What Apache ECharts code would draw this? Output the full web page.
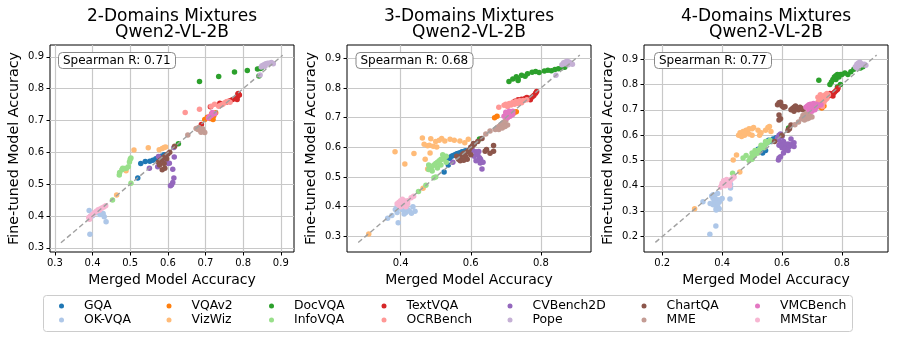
<!DOCTYPE html>
<html>
<head>
<meta charset="utf-8">
<script src="https://cdn.jsdelivr.net/npm/echarts@6/dist/echarts.min.js"></script>
<style>
  html, body { margin: 0; padding: 0; background: #fff; }
  #chart { width: 897px; height: 339px; }
</style>
</head>
<body>
<div id="chart"></div>
<script>
var names = ['GQA', 'OK-VQA', 'VQAv2', 'VizWiz', 'DocVQA', 'InfoVQA', 'TextVQA', 'OCRBench', 'CVBench2D', 'Pope', 'ChartQA', 'MME', 'VMCBench', 'MMStar'];
var colors = ['#1f77b4', '#aec7e8', '#ff7f0e', '#ffbb78', '#2ca02c', '#98df8a', '#d62728', '#ff9896', '#9467bd', '#c5b0d5', '#8c564b', '#c49c94', '#e377c2', '#f7b6d2'];

var titles = ['2-Domains Mixtures\nQwen2-VL-2B', '3-Domains Mixtures\nQwen2-VL-2B', '4-Domains Mixtures\nQwen2-VL-2B'];
var spearman = ['Spearman R: 0.71', 'Spearman R: 0.68', 'Spearman R: 0.77'];

// axis ranges and ticks per panel
var xRanges = [[0.287, 0.935], [0.247, 0.943], [0.139, 0.954]];
var yRanges = [[0.287, 0.937], [0.247, 0.945], [0.139, 0.956]];
var xTicks = [[0.3, 0.4, 0.5, 0.6, 0.7, 0.8, 0.9], [0.4, 0.6, 0.8], [0.2, 0.4, 0.6, 0.8]];
var yTicks = [[0.3, 0.4, 0.5, 0.6, 0.7, 0.8, 0.9], [0.3, 0.4, 0.5, 0.6, 0.7, 0.8, 0.9], [0.2, 0.3, 0.4, 0.5, 0.6, 0.7, 0.8, 0.9]];
// y = x reference line ends
var diag = [[0.316, 0.905], [0.279, 0.911], [0.177, 0.916]];

// ---- 2 domains ----
var gqa_2 = [[0.52,0.519],[0.528,0.565],[0.54,0.571],[0.552,0.572],[0.56,0.575],[0.568,0.58],[0.575,0.583],[0.582,0.588],[0.59,0.592],[0.585,0.585]];
var okvqa_2 = [[0.391,0.417],[0.393,0.343],[0.436,0.382],[0.431,0.398],[0.4,0.401],[0.42,0.405],[0.395,0.4],[0.41,0.41],[0.428,0.408]];
var vqav2_2 = [[0.698,0.703],[0.705,0.71],[0.712,0.706],[0.72,0.703],[0.722,0.715],[0.727,0.724],[0.716,0.72]];
var vizwiz_2 = [[0.464,0.466],[0.489,0.542],[0.51,0.607],[0.548,0.614],[0.577,0.608],[0.585,0.612],[0.59,0.615],[0.594,0.617]];
var docvqa_2 = [[0.628,0.627],[0.684,0.822],[0.735,0.838],[0.777,0.852],[0.811,0.857],[0.838,0.862],[0.845,0.863],[0.842,0.84],[0.848,0.865]];
var infovqa_2 = [[0.453,0.45],[0.502,0.503],[0.471,0.529],[0.472,0.537],[0.478,0.545],[0.485,0.549],[0.49,0.55],[0.495,0.555],[0.498,0.57],[0.5,0.578],[0.502,0.582],[0.48,0.55]];
var textvqa_2 = [[0.689,0.687],[0.713,0.743],[0.738,0.754],[0.755,0.757],[0.765,0.762],[0.772,0.766],[0.78,0.77],[0.784,0.766],[0.785,0.775],[0.786,0.782],[0.787,0.785],[0.79,0.78]];
var ocrbench_2 = [[0.646,0.725],[0.684,0.735],[0.715,0.745],[0.724,0.751],[0.735,0.745],[0.74,0.748],[0.745,0.75],[0.75,0.755],[0.755,0.758],[0.76,0.76],[0.765,0.757]];
var cvbench_2 = [[0.551,0.55],[0.573,0.555],[0.575,0.587],[0.58,0.57],[0.6,0.566],[0.604,0.566],[0.613,0.547],[0.617,0.585],[0.616,0.519],[0.613,0.505],[0.607,0.495],[0.61,0.498],[0.616,0.615],[0.59,0.578]];
var pope_2 = [[0.845,0.843],[0.85,0.872],[0.855,0.875],[0.86,0.878],[0.865,0.88],[0.87,0.88],[0.875,0.882],[0.88,0.878],[0.858,0.87],[0.848,0.868]];
var chartqa_2 = [[0.575,0.57],[0.58,0.575],[0.585,0.58],[0.59,0.585],[0.595,0.59],[0.6,0.595],[0.585,0.545],[0.592,0.55],[0.578,0.56],[0.59,0.565],[0.605,0.6],[0.618,0.619],[0.597,0.58]];
var mme_2 = [[0.653,0.654],[0.675,0.675],[0.68,0.672],[0.685,0.67],[0.69,0.668],[0.695,0.665],[0.698,0.662],[0.682,0.678],[0.692,0.674],[0.688,0.663]];
var vmcbench_2 = [[0.71,0.712],[0.715,0.716],[0.72,0.72],[0.725,0.722],[0.718,0.725],[0.708,0.708]];
var mmstar_2 = [[0.39,0.395],[0.395,0.4],[0.4,0.405],[0.41,0.415],[0.415,0.42],[0.42,0.422],[0.425,0.425],[0.43,0.428],[0.435,0.432],[0.392,0.39],[0.405,0.41],[0.418,0.418]];

// ---- 3 domains ----
var gqa_3 = [[0.524,0.517],[0.536,0.54],[0.535,0.565],[0.545,0.57],[0.555,0.575],[0.565,0.58],[0.575,0.585],[0.585,0.588],[0.595,0.59],[0.55,0.572],[0.56,0.578],[0.57,0.582],[0.54,0.562],[0.58,0.586]];
var okvqa_3 = [[0.363,0.361],[0.375,0.37],[0.393,0.346],[0.39,0.38],[0.395,0.395],[0.4,0.4],[0.405,0.39],[0.41,0.385],[0.415,0.38],[0.42,0.39],[0.425,0.385],[0.431,0.378],[0.441,0.384],[0.385,0.39],[0.4,0.41],[0.435,0.4],[0.39,0.4],[0.41,0.375]];
var vqav2_3 = [[0.668,0.7],[0.675,0.705],[0.72,0.712],[0.725,0.718],[0.73,0.72]];
var vizwiz_3 = [[0.309,0.308],[0.384,0.585],[0.412,0.544],[0.438,0.579],[0.462,0.631],[0.467,0.61],[0.477,0.605],[0.482,0.607],[0.493,0.604],[0.503,0.601],[0.477,0.527],[0.484,0.581],[0.486,0.629],[0.5,0.62],[0.51,0.624],[0.517,0.63],[0.526,0.621],[0.541,0.627],[0.553,0.624],[0.569,0.621],[0.583,0.615],[0.593,0.627],[0.464,0.462],[0.47,0.56]];
var docvqa_3 = [[0.625,0.628],[0.709,0.822],[0.72,0.83],[0.73,0.838],[0.735,0.83],[0.745,0.843],[0.755,0.84],[0.762,0.848],[0.775,0.853],[0.785,0.856],[0.795,0.852],[0.81,0.857],[0.82,0.86],[0.83,0.858],[0.84,0.862],[0.85,0.865],[0.86,0.868],[0.868,0.87],[0.735,0.825]];
var infovqa_3 = [[0.451,0.451],[0.472,0.472],[0.495,0.497],[0.5,0.5],[0.48,0.525],[0.485,0.53],[0.49,0.535],[0.495,0.54],[0.5,0.545],[0.505,0.55],[0.51,0.555],[0.515,0.56],[0.52,0.56],[0.525,0.565],[0.53,0.57],[0.49,0.52],[0.505,0.53],[0.515,0.54],[0.48,0.54],[0.52,0.575],[0.51,0.545],[0.53,0.55]];
var textvqa_3 = [[0.726,0.755],[0.735,0.76],[0.745,0.762],[0.755,0.765],[0.76,0.768],[0.768,0.765],[0.775,0.77],[0.78,0.775],[0.785,0.782],[0.788,0.788],[0.75,0.758],[0.77,0.76]];
var ocrbench_3 = [[0.68,0.735],[0.695,0.742],[0.7,0.745],[0.71,0.748],[0.72,0.752],[0.73,0.755],[0.74,0.757],[0.75,0.758],[0.76,0.76],[0.705,0.738],[0.715,0.743],[0.725,0.745],[0.735,0.748],[0.745,0.75]];
var cvbench_3 = [[0.549,0.55],[0.6,0.58],[0.61,0.57],[0.615,0.585],[0.62,0.575],[0.623,0.586],[0.625,0.565],[0.628,0.56],[0.627,0.547],[0.632,0.527],[0.615,0.555],[0.605,0.59],[0.635,0.55]];
var pope_3 = [[0.843,0.843],[0.86,0.878],[0.865,0.885],[0.87,0.888],[0.875,0.89],[0.88,0.888],[0.885,0.884],[0.89,0.88],[0.868,0.882],[0.878,0.878]];
var chartqa_3 = [[0.56,0.57],[0.565,0.56],[0.57,0.565],[0.575,0.575],[0.58,0.58],[0.585,0.57],[0.59,0.585],[0.595,0.59],[0.6,0.6],[0.605,0.605],[0.61,0.61],[0.59,0.56],[0.6,0.575],[0.57,0.555],[0.608,0.613],[0.62,0.62],[0.632,0.63],[0.641,0.587],[0.645,0.593],[0.665,0.606],[0.665,0.587],[0.655,0.58],[0.58,0.556]];
var mme_3 = [[0.67,0.66],[0.675,0.665],[0.68,0.67],[0.685,0.675],[0.69,0.68],[0.695,0.685],[0.7,0.69],[0.705,0.675],[0.68,0.66],[0.69,0.665],[0.698,0.67],[0.655,0.655],[0.643,0.645]];
var vmcbench_3 = [[0.695,0.705],[0.7,0.71],[0.705,0.712],[0.71,0.715],[0.715,0.72],[0.72,0.722],[0.705,0.7],[0.712,0.705],[0.718,0.71],[0.7,0.718],[0.71,0.722],[0.72,0.712]];
var mmstar_3 = [[0.39,0.41],[0.395,0.415],[0.4,0.42],[0.405,0.41],[0.41,0.405],[0.415,0.415],[0.42,0.41],[0.4,0.4],[0.395,0.405],[0.41,0.42],[0.405,0.425],[0.415,0.4],[0.42,0.42],[0.43,0.43],[0.437,0.435]];

// ---- 4 domains ----
var gqa_4 = [[0.52,0.545],[0.53,0.55],[0.54,0.56],[0.55,0.57],[0.56,0.575],[0.57,0.585],[0.58,0.59],[0.535,0.53],[0.545,0.54],[0.555,0.58]];
var okvqa_4 = [[0.359,0.209],[0.379,0.242],[0.336,0.337],[0.426,0.348],[0.428,0.392],[0.428,0.406],[0.365,0.36],[0.37,0.35],[0.375,0.34],[0.38,0.33],[0.385,0.32],[0.39,0.31],[0.375,0.355],[0.385,0.345],[0.39,0.335],[0.37,0.325],[0.38,0.31],[0.395,0.345],[0.36,0.33],[0.4,0.35],[0.385,0.37],[0.38,0.305],[0.37,0.365]];
var vqav2_4 = [[0.733,0.707],[0.725,0.712],[0.74,0.715],[0.68,0.675]];
var vizwiz_4 = [[0.308,0.31],[0.459,0.455],[0.437,0.502],[0.448,0.522],[0.455,0.6],[0.46,0.61],[0.465,0.605],[0.47,0.615],[0.475,0.6],[0.48,0.62],[0.485,0.61],[0.49,0.625],[0.5,0.625],[0.505,0.63],[0.465,0.595],[0.475,0.61],[0.52,0.62],[0.525,0.6],[0.53,0.61],[0.545,0.62],[0.553,0.63],[0.558,0.634],[0.563,0.615],[0.5,0.6],[0.49,0.605]];
var docvqa_4 = [[0.622,0.628],[0.723,0.817],[0.76,0.8],[0.765,0.81],[0.77,0.82],[0.775,0.83],[0.78,0.835],[0.785,0.84],[0.79,0.83],[0.78,0.82],[0.795,0.84],[0.8,0.84],[0.81,0.845],[0.82,0.84],[0.83,0.85],[0.84,0.86],[0.862,0.865],[0.87,0.87],[0.785,0.79],[0.795,0.8]];
var infovqa_4 = [[0.435,0.45],[0.49,0.5],[0.495,0.51],[0.5,0.515],[0.505,0.52],[0.51,0.525],[0.515,0.53],[0.52,0.54],[0.525,0.545],[0.53,0.55],[0.535,0.555],[0.54,0.56],[0.545,0.565],[0.55,0.57],[0.555,0.575],[0.56,0.58],[0.48,0.52],[0.5,0.53],[0.51,0.54],[0.52,0.53],[0.53,0.56],[0.545,0.575],[0.5,0.505],[0.54,0.55],[0.47,0.51]];
var textvqa_4 = [[0.725,0.745],[0.735,0.748],[0.745,0.752],[0.755,0.755],[0.765,0.76],[0.77,0.765],[0.775,0.77],[0.78,0.775],[0.785,0.78],[0.787,0.786],[0.76,0.765],[0.77,0.755]];
var ocrbench_4 = [[0.72,0.73],[0.725,0.74],[0.73,0.745],[0.735,0.75],[0.74,0.755],[0.745,0.76],[0.75,0.765],[0.755,0.76],[0.73,0.72],[0.735,0.725],[0.74,0.73],[0.745,0.74],[0.75,0.745],[0.72,0.75],[0.728,0.76],[0.735,0.713],[0.7,0.7]];
var cvbench_4 = [[0.585,0.59],[0.59,0.6],[0.595,0.605],[0.6,0.595],[0.59,0.58],[0.6,0.57],[0.605,0.575],[0.61,0.565],[0.615,0.56],[0.62,0.565],[0.625,0.555],[0.63,0.56],[0.635,0.565],[0.64,0.57],[0.6,0.55],[0.61,0.545],[0.62,0.54],[0.595,0.56],[0.605,0.53],[0.595,0.515],[0.588,0.502],[0.59,0.51],[0.64,0.555],[0.59,0.56],[0.63,0.585]];
var pope_4 = [[0.845,0.87],[0.85,0.88],[0.855,0.885],[0.86,0.888],[0.865,0.882],[0.87,0.878],[0.875,0.88],[0.88,0.876],[0.858,0.874],[0.85,0.865]];
var chartqa_4 = [[0.585,0.72],[0.59,0.728],[0.595,0.73],[0.6,0.715],[0.605,0.71],[0.61,0.712],[0.63,0.7],[0.635,0.705],[0.64,0.71],[0.645,0.715],[0.65,0.705],[0.655,0.7],[0.66,0.71],[0.665,0.705],[0.67,0.7],[0.64,0.695],[0.59,0.68],[0.595,0.665],[0.59,0.66],[0.62,0.62],[0.625,0.625],[0.63,0.64],[0.575,0.575],[0.6,0.6]];
var mme_4 = [[0.643,0.641],[0.655,0.652],[0.665,0.665],[0.67,0.668],[0.675,0.672],[0.68,0.675],[0.685,0.678],[0.69,0.68],[0.695,0.675],[0.7,0.672],[0.675,0.66],[0.685,0.665],[0.69,0.668],[0.68,0.685],[0.67,0.678]];
var vmcbench_4 = [[0.68,0.71],[0.685,0.715],[0.69,0.72],[0.695,0.722],[0.7,0.72],[0.705,0.715],[0.71,0.712],[0.715,0.71],[0.72,0.715],[0.725,0.718],[0.73,0.72],[0.69,0.7],[0.7,0.695],[0.71,0.7],[0.695,0.71],[0.705,0.725],[0.715,0.722]];
var mmstar_4 = [[0.395,0.395],[0.4,0.41],[0.405,0.405],[0.41,0.415],[0.415,0.41],[0.42,0.42],[0.425,0.415],[0.43,0.425],[0.405,0.42],[0.41,0.4],[0.42,0.405],[0.435,0.43],[0.44,0.435],[0.415,0.425],[0.398,0.4],[0.425,0.4]];

var panelData = [
  [gqa_2, okvqa_2, vqav2_2, vizwiz_2, docvqa_2, infovqa_2, textvqa_2, ocrbench_2, cvbench_2, pope_2, chartqa_2, mme_2, vmcbench_2, mmstar_2],
  [gqa_3, okvqa_3, vqav2_3, vizwiz_3, docvqa_3, infovqa_3, textvqa_3, ocrbench_3, cvbench_3, pope_3, chartqa_3, mme_3, vmcbench_3, mmstar_3],
  [gqa_4, okvqa_4, vqav2_4, vizwiz_4, docvqa_4, infovqa_4, textvqa_4, ocrbench_4, cvbench_4, pope_4, chartqa_4, mme_4, vmcbench_4, mmstar_4]
];

var FONT = 'DejaVu Sans';
var gridLeft = [50, 347, 644];
var gridW = 244, gridTop = 45, gridH = 207;

var chart = echarts.init(document.getElementById('chart'));

var grids = [], xAxes = [], yAxes = [], series = [], title = [];
for (var p = 0; p < 3; p++) {
  grids.push({ left: gridLeft[p], top: gridTop, width: gridW, height: gridH, show: true,
    borderColor: '#000', borderWidth: 1, backgroundColor: 'transparent', containLabel: false, outerBoundsMode: 'none' });
  xAxes.push({
    type: 'value', gridIndex: p, min: xRanges[p][0], max: xRanges[p][1],
    name: 'Merged Model Accuracy', nameLocation: 'middle', nameGap: 20,
    nameTextStyle: { fontFamily: FONT, fontSize: 14, color: '#000' },
    axisLine: { show: false },
    axisTick: { show: true, length: 3.5, customValues: xTicks[p], lineStyle: { color: '#000', width: 1 } },
    axisLabel: { customValues: xTicks[p], margin: 6, fontFamily: FONT, fontSize: 10, color: '#000',
      formatter: function (v) { return v.toFixed(1); } },
    splitLine: { show: true, lineStyle: { color: '#c8c8c8', width: 1.2 } }
  });
  yAxes.push({
    type: 'value', gridIndex: p, min: yRanges[p][0], max: yRanges[p][1],
    name: 'Fine-tuned Model Accuracy', nameLocation: 'middle', nameGap: 29,
    nameTextStyle: { fontFamily: FONT, fontSize: 14.3, color: '#000' },
    axisLine: { show: false },
    axisTick: { show: true, length: 3.5, customValues: yTicks[p], lineStyle: { color: '#000', width: 1 } },
    axisLabel: { customValues: yTicks[p], margin: 6, fontFamily: FONT, fontSize: 10, color: '#000',
      formatter: function (v) { return v.toFixed(1); } },
    splitLine: { show: true, lineStyle: { color: '#c8c8c8', width: 1.2 } }
  });
  for (var i = 0; i < names.length; i++) {
    series.push({
      type: 'scatter', name: names[i], xAxisIndex: p, yAxisIndex: p,
      data: panelData[p][i], symbolSize: 5.5,
      itemStyle: { color: colors[i], opacity: 1 }
    });
  }
  series.push({
    type: 'line', xAxisIndex: p, yAxisIndex: p, silent: true, symbol: 'none', z: 5,
    data: [[diag[p][0], diag[p][0]], [diag[p][1], diag[p][1]]],
    lineStyle: { color: '#a0a0a0', width: 1.4, type: [5, 3] }
  });
  title.push({
    text: titles[p], left: gridLeft[p] + gridW / 2, top: 9, textAlign: 'center', padding: 0,
    textStyle: { fontFamily: FONT, fontSize: 17, fontWeight: 'normal', color: '#000', lineHeight: 16 }
  });
  title.push({
    text: spearman[p], left: gridLeft[p] + 8 + (p === 1 ? 0.5 : (p === 2 ? 2 : 0)), top: 52,
    padding: [3, 5, 2, 5], backgroundColor: '#fff', borderColor: '#888', borderWidth: 1, borderRadius: 4,
    textStyle: { fontFamily: FONT, fontSize: 12, fontWeight: 'normal', color: '#000' }
  });
}

// legend: 7 columns x 2 rows, column-major
var legendX = [59, 166.5, 269, 381.5, 507.5, 641.5, 755];
var legends = [];
for (var c = 0; c < 7; c++) {
  legends.push({
    orient: 'vertical', left: legendX[c], top: 299, padding: 0, itemGap: 0,
    itemWidth: 5, itemHeight: 5, icon: 'circle',
    data: [names[c * 2], names[c * 2 + 1]],
    textStyle: { fontFamily: FONT, fontSize: 12.4, color: '#000', lineHeight: 14, padding: [0, 0, 0, 15] },
    selectedMode: false
  });
}

chart.setOption({
  animation: false,
  backgroundColor: '#fff',
  color: colors,
  title: title,
  grid: grids,
  xAxis: xAxes,
  yAxis: yAxes,
  legend: legends,
  graphic: [{
    type: 'rect', left: 43, top: 295, z: -1,
    shape: { width: 809, height: 36, r: 3 },
    style: { fill: '#fff', stroke: '#cccccc', lineWidth: 1 }
  }],
  series: series
});
</script>
</body>
</html>
